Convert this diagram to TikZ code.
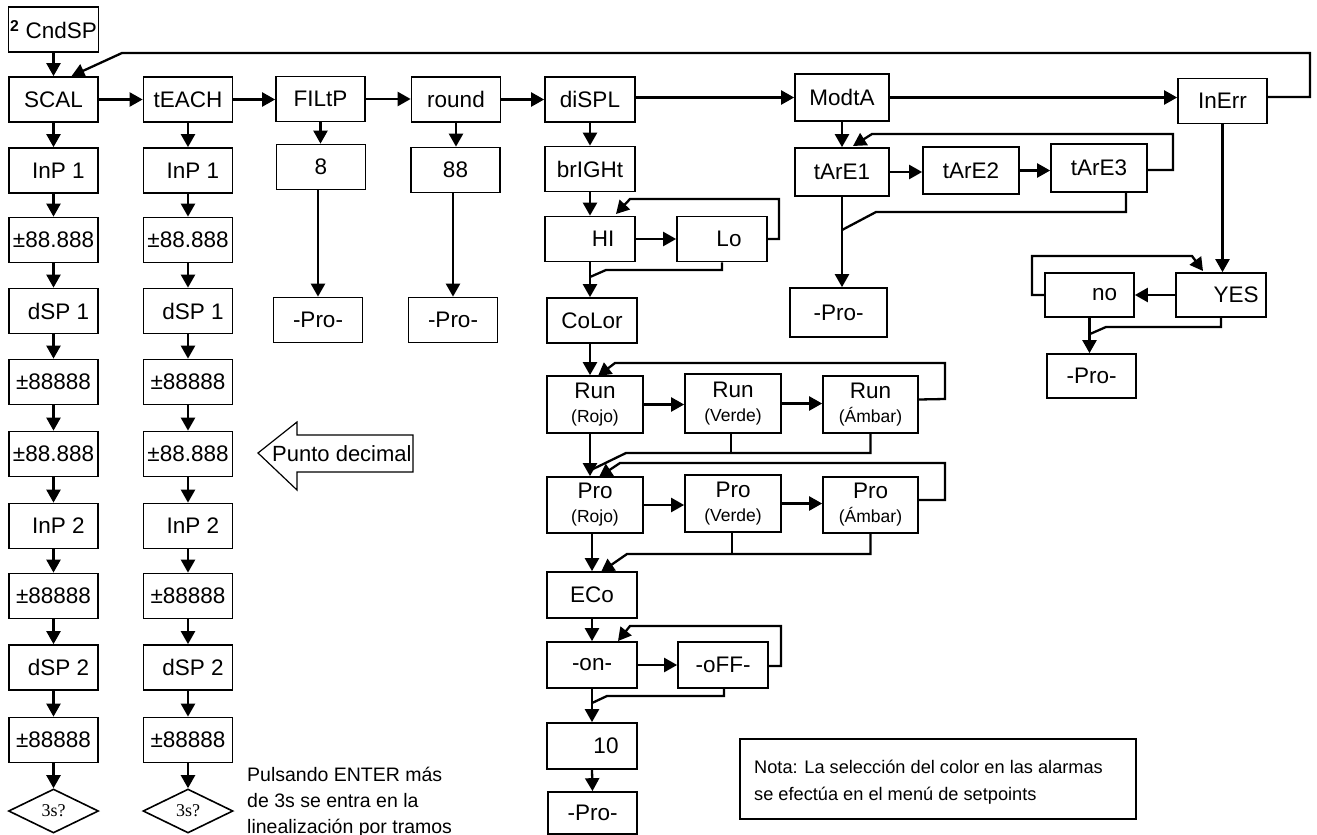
\documentclass[tikz,border=0pt]{standalone}
\usepackage{fontspec}
\setmainfont{Liberation Sans}
\newfontfamily\serifx{Liberation Serif}
\usetikzlibrary{arrows.meta,shapes.geometric}
\begin{document}
\begin{tikzpicture}[x=1pt,y=-1pt,
  bx/.style={draw, line width=1.7pt, minimum width=89pt, minimum height=45pt, inner sep=0pt,
     font=\fontsize{22.5}{25}\selectfont, align=center},
  tb/.style={bx, minimum width=96pt, minimum height=57pt, font=\fontsize{22.5}{24}\selectfont},
  dia/.style={draw, line width=1.6pt, diamond, minimum width=90pt, minimum height=44pt, inner sep=0pt,
     font=\serifx\fontsize{18}{20}\selectfont},
  ln/.style={line width=2.3pt},
  ar/.style={line width=2.3pt, -{Triangle[length=13pt,width=14pt]}},
  txt/.style={inner sep=0pt, font=\fontsize{19.5}{26}\selectfont, align=left}
]
\useasboundingbox (0,0) rectangle (1317,835);
\newcommand{\sm}[1]{{\fontsize{17.5}{20}\selectfont #1}}
\newcommand{\off}[2]{\hspace*{#1}#2}

% top row
\node[bx, minimum width=90pt] (cnd) at (53.5,29.5) {\textsuperscript{\bfseries 2} CndSP};
\node[bx] (scal) at (53.5,99.5) {SCAL};
\node[bx] (teach) at (188,99.5) {tEACH};
\node[bx] (filtp) at (320.5,99) {FILtP};
\node[bx] (round) at (456,99.5) {round};
\node[bx, minimum width=90pt] (displ) at (590,99.5) {diSPL};
\node[bx, minimum width=94pt, minimum height=47pt] (modta) at (842,97.5) {ModtA};
\node[bx] (inerr) at (1222.5,101) {InErr};

% column 1
\node[bx] (a1) at (53.5,170.5) {\off{10pt}{InP 1}};
\node[bx] (a2) at (53.5,240) {±88.888};
\node[bx] (a3) at (53.5,311) {\off{10pt}{dSP 1}};
\node[bx] (a4) at (53.5,382) {±88888};
\node[bx] (a5) at (53.5,454) {±88.888};
\node[bx] (a6) at (53.5,526) {\off{10pt}{InP 2}};
\node[bx] (a7) at (53.5,596) {±88888};
\node[bx] (a8) at (53.5,667.5) {\off{10pt}{dSP 2}};
\node[bx] (a9) at (53.5,740) {±88888};
\node[dia] (ad) at (53.5,811) {3s?};
% column 2
\node[bx] (b1) at (188,170.5) {\off{10pt}{InP 1}};
\node[bx] (b2) at (188,240) {±88.888};
\node[bx] (b3) at (188,311) {\off{10pt}{dSP 1}};
\node[bx] (b4) at (188,382) {±88888};
\node[bx] (b5) at (188,454) {±88.888};
\node[bx] (b6) at (188,526) {\off{10pt}{InP 2}};
\node[bx] (b7) at (188,596) {±88888};
\node[bx] (b8) at (188,667.5) {\off{10pt}{dSP 2}};
\node[bx] (b9) at (188,740) {±88888};
\node[dia] (bd) at (188,811) {3s?};

\foreach \c in {a,b}{
  \foreach \i/\j in {1/2,2/3,3/4,4/5,5/6,6/7,7/8,8/9}{
    \draw[ar] (\c\i.south) -- (\c\j.north);
  }
  \draw[ar] (\c9.south) -- (\c d.north);
}
\draw[ar] (scal.south) -- (a1.north);
\draw[ar] (teach.south) -- (b1.north);
\draw[ar] (cnd.south) -- (scal.north);

% FILtP / round columns
\node[bx] (f8) at (321,167) {8};
\node[bx] (fpro) at (318,320) {-Pro-};
\node[bx] (r88) at (455.5,170) {88};
\node[bx] (rpro) at (453,320) {-Pro-};
\draw[ar] (filtp.south) -- (filtp.south |- f8.north);
\draw[ar] (fpro.north |- f8.south) -- (fpro.north);
\draw[ar] (round.south) -- (round.south |- r88.north);
\draw[ar] (rpro.north |- r88.south) -- (rpro.north);

% row arrows
\draw[ar] (scal.east) -- (scal.east -| teach.west);
\draw[ar] (teach.east) -- (teach.east -| filtp.west);
\draw[ar] (filtp.east) -- (filtp.east -| round.west);
\draw[ar] (round.east) -- (round.east -| displ.west);
\draw[ar] (modta.west -| displ.east) -- (modta.west);
\draw[ar] (modta.east) -- (modta.east -| inerr.west);
\draw[ar] ([yshift=4pt]inerr.east) -- (1310,97) -- (1310,53) -- (122,53) -- ([xshift=18pt]scal.north);

% diSPL column
\node[bx, minimum width=90pt] (bright) at (590,169) {brIGHt};
\node[bx, minimum width=90pt] (hi) at (590,239) {\off{26pt}{HI}};
\node[bx, minimum width=90pt] (lo) at (722,239) {\off{14pt}{Lo}};
\node[bx, minimum width=90pt] (color) at (592,320.5) {CoLor};
\draw[ar] (displ.south) -- (bright.north);
\draw[ar] (bright.south) -- (hi.north);
\draw[ar] (hi.east) -- (lo.west);
\draw[ar] (lo.east) -- (779,239) -- (779,199) -- (630,199) -- (616,214);
\draw[ln] (lo.south) -- (722,270) -- (606,270) -- (590,277);
\draw[ar] (hi.south) -- (hi.south |- color.north);

\node[tb] (runr) at (595,404.5) {Run\\\sm{(Rojo)}};
\node[tb, minimum height=59pt] (runv) at (733,403.5) {Run\\\sm{(Verde)}};
\node[tb, minimum width=95pt] (runa) at (870.5,404.5) {Run\\\sm{(Ámbar)}};
\node[tb, minimum height=56pt] (pror) at (595,505) {Pro\\\sm{(Rojo)}};
\node[tb] (prov) at (733,503.5) {Pro\\\sm{(Verde)}};
\node[tb, minimum width=95pt, minimum height=56pt] (proa) at (870.5,505) {Pro\\\sm{(Ámbar)}};

\draw[ar] ([xshift=-2pt]color.south) -- ([xshift=-2pt]color.south |- runr.north);
\draw[ar] (runr.east) -- (runr.east -| runv.west);
\draw[ar] (runv.east) -- (runv.east -| runa.west);
\draw[ar] ([yshift=5pt]runa.east) -- (945,399) -- (945,363) -- (615,363) -- (598,376);
\draw[ln] ([xshift=-2pt]runv.south) -- (731,453);
\draw[ln] (runa.south) -- (870.5,453) -- (626,453) -- (591,470);
\draw[ar] ([xshift=-5pt]runr.south) -- ([xshift=-5pt]pror.north);
\draw[ar] ([yshift=5pt]proa.east) -- (945,500) -- (945,463) -- (620,463) -- (599,477);

\draw[ar] (pror.east) -- (pror.east -| prov.west);
\draw[ar] (prov.east) -- (prov.east -| proa.west);

\node[bx, minimum width=90pt, minimum height=46pt] (eco) at (592,595) {ECo};
\node[bx, minimum width=90pt, minimum height=46pt] (on) at (592,665) {-on-};
\node[bx, minimum width=90pt, minimum height=46pt] (off) at (723,665) {-oFF-};
\node[bx, minimum width=90pt, minimum height=46pt] (ten) at (592,746) {\off{28pt}{10}};
\node[bx, minimum width=89pt, minimum height=42pt] (epro) at (592.5,813) {-Pro-};

\draw[ar] (eco.north |- pror.south) -- (eco.north);
\draw[ln] ([xshift=-1pt]prov.south) -- (732,554);
\draw[ar] (proa.south) -- (870.5,554) -- (627,554) -- (601,572);
\draw[ar] (eco.south) -- (on.north);
\draw[ar] (on.east) -- (off.west);
\draw[ar] ([yshift=-1pt]off.east) -- (781,666) -- (781,626) -- (630,626) -- (618,641);
\draw[ln] ([xshift=1pt]off.south) -- (724,696) -- (607,696) -- (592,703);
\draw[ar] (on.south) -- (ten.north);
\draw[ar] (ten.south) -- (epro.north);

% ModtA column
\node[bx, minimum width=94pt, minimum height=48pt] (tare1) at (842,172) {tArE1};
\node[bx, minimum width=96pt, minimum height=47pt] (tare2) at (971,170.5) {tArE2};
\node[bx, minimum width=96pt, minimum height=48pt] (tare3) at (1099,168) {tArE3};
\node[bx, minimum width=97pt, minimum height=49pt] (mpro) at (838.5,312.5) {-Pro-};
\draw[ar] (modta.south) -- (modta.south |- tare1.north);
\draw[ar] (tare1.east) -- (tare1.east -| tare2.west);
\draw[ar] (tare2.east) -- (tare2.east -| tare3.west);
\draw[ar] ([yshift=-2pt]tare3.east) -- (1173,170) -- (1173,134) -- (872,134) -- (853,146);
\draw[ln] ([xshift=27pt]tare3.south) -- (1126,212) -- (876,212) -- (842,230);
\draw[ar] (tare1.south) -- (tare1.south |- mpro.north);

% InErr column
\node[bx, minimum width=90pt, minimum height=44pt] (yes) at (1221,295) {\off{30pt}{YES}};
\node[bx, minimum height=44pt] (no) at (1089.5,295) {\off{30pt}{no}};
\node[bx, minimum height=44pt] (npro) at (1091.5,376) {-Pro-};
\draw[ar] (inerr.south) -- (inerr.south |- yes.north);
\draw[ar] (yes.west) -- (no.east);
\draw[ar] (no.west) -- (1032,295) -- (1032,256) -- (1192,256) -- (1203,271);
\draw[ln] (yes.south) -- (1221,327) -- (1106,327) -- (1090,334);
\draw[ar] (no.south) -- (no.south |- npro.north);

% Punto decimal arrow
\draw[line width=1.2pt, fill=white] (258,453) -- (297,422) -- (297,435) -- (413,435) -- (413,472) -- (297,472) -- (297,490) -- cycle;
\node[inner sep=0pt, anchor=west, font=\fontsize{22}{24}\selectfont] (punto) at (272,454) {Punto decimal};

% notes
\node[txt, anchor=north west] (puls) at (247,767) {Pulsando ENTER más\\de 3s se entra en la\\linealización por tramos};
\node[draw, line width=1.6pt, minimum width=396pt, minimum height=80pt, inner sep=0pt] (note) at (938,779) {};
\node[txt, anchor=north west, font=\fontsize{18.2}{26.5}\selectfont] (notetxt) at (754,760) {Nota: La selección del color en las alarmas\\se efectúa en el menú de setpoints};
\end{tikzpicture}
\end{document}
